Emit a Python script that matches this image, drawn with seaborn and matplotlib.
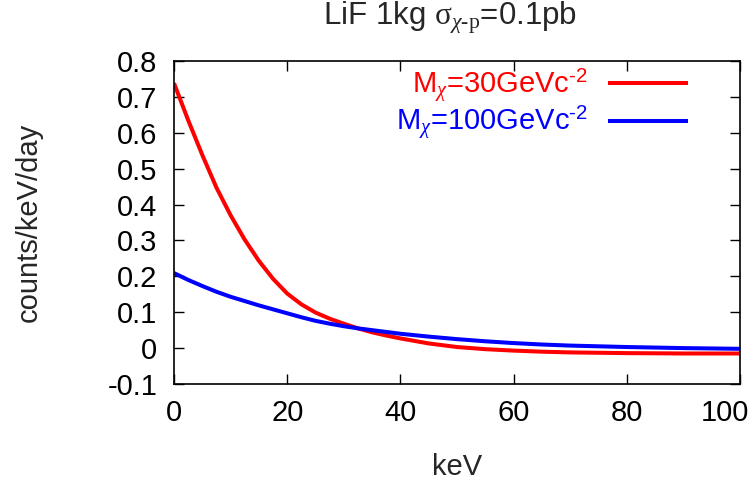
import numpy as np
import pandas as pd
import matplotlib
matplotlib.use("Agg")
import matplotlib.pyplot as plt
import matplotlib.transforms as mtrans
import seaborn as sns

# Data
kev = [0, 2.5, 5, 7.5, 10, 12.5, 15, 17.5, 20, 22.5, 25, 27.5, 30, 32.5, 35, 37.5, 40,
       45, 50, 55, 60, 65, 70, 80, 90, 100]
rate_30 = [0.738, 0.635, 0.538, 0.447, 0.370, 0.302, 0.243, 0.193, 0.152, 0.122, 0.099, 0.082,
           0.068, 0.055, 0.044, 0.035, 0.027, 0.013, 0.003, -0.003, -0.007, -0.010, -0.012,
           -0.014, -0.015, -0.015]
rate_100 = [0.209, 0.190, 0.173, 0.157, 0.143, 0.131, 0.119, 0.108, 0.097, 0.086, 0.076, 0.068,
            0.061, 0.055, 0.050, 0.045, 0.040, 0.032, 0.025, 0.019, 0.014, 0.010, 0.007, 0.003,
            0.0, -0.002]
labels = ['M$_{\\chi}$=30GeVc$^{\\mathsf{\u20102}}$', 'M$_{\\chi}$=100GeVc$^{\\mathsf{\u20102}}$']
colors = ['#ff0000', '#0000ff']
xticks = [0, 20, 40, 60, 80, 100]
yticks = [-0.1, 0, 0.1, 0.2, 0.3, 0.4, 0.5, 0.6, 0.7, 0.8]
ytick_labels = ['-0.1', '0', '0.1', '0.2', '0.3', '0.4', '0.5', '0.6', '0.7', '0.8']

df = pd.concat([
    pd.DataFrame({'keV': kev, 'rate': rate_30, 'series': labels[0]}),
    pd.DataFrame({'keV': kev, 'rate': rate_100, 'series': labels[1]}),
])

sns.set_style('ticks')
plt.rcParams['font.family'] = ['Liberation Sans', 'DejaVu Sans']
plt.rcParams['mathtext.fontset'] = 'custom'
plt.rcParams['mathtext.rm'] = 'Liberation Serif'
plt.rcParams['mathtext.it'] = 'Liberation Serif:italic'
plt.rcParams['mathtext.sf'] = 'Liberation Sans'

fig = plt.figure(figsize=(7.55, 4.83), dpi=100)
ax = fig.add_axes([0.2305, 0.205, 0.7495, 0.6687])

sns.lineplot(data=df, x='keV', y='rate', hue='series', palette=colors, linewidth=2.9, ax=ax)
for ln in ax.get_lines():
    ln.set_solid_joinstyle('round')
    ln.set_solid_capstyle('butt')

ax.set_xlim(0, 100)
ax.set_ylim(-0.1, 0.8)
ax.set_xticks(xticks)
ax.set_xticklabels([str(t) for t in xticks])
ax.set_yticks(yticks)
ax.set_yticklabels(ytick_labels)
ax.tick_params(direction='in', length=7, width=1, labelsize=21, top=True, right=True, colors='black')
ax.tick_params(axis='x', pad=11)
ax.tick_params(axis='y', pad=12)
for s in ax.spines.values():
    s.set_visible(True)
    s.set_color('black')
    s.set_linewidth(1.2)

# keep the last x tick label inside the canvas, as in the reference
last = ax.get_xticklabels()[-1]
last.set_transform(last.get_transform() + mtrans.ScaledTranslation(-11 / 72, 0, fig.dpi_scale_trans))

ax.set_xlabel('keV', fontsize=21)
ax.set_ylabel('counts/keV/day', fontsize=21)
ax.xaxis.set_label_coords(0.5, -0.215)
ax.yaxis.set_label_coords(-0.232, 0.5)
ax.set_title(r'LiF 1kg $\mathrm{\sigma}_{\chi\text{-p}}$=0.1pb', fontsize=22.5, pad=26, x=0.487)

leg = ax.legend(loc='upper right', frameon=False, fontsize=21, markerfirst=False,
                handlelength=2.77, handletextpad=0.68, labelspacing=0.0,
                borderpad=0, borderaxespad=0, bbox_to_anchor=(0.909, 0.982))
for t, c in zip(leg.get_texts(), colors):
    t.set_color(c)

fig.savefig('out.png', dpi=100)
